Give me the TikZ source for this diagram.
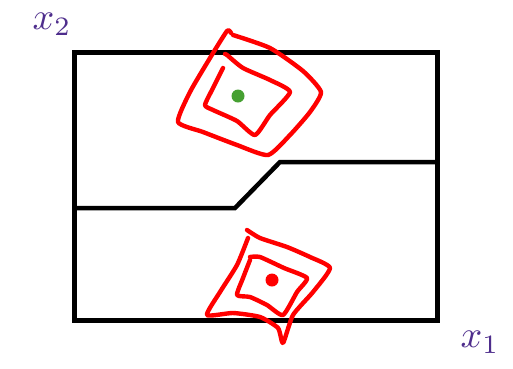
\documentclass[tikz,border=0pt]{standalone}
\usepackage{graphicx}
\begin{document}
\begin{tikzpicture}[x=1pt,y=-1pt,
  frame/.style={line width=5pt,black},
  scribble/.style={line width=4.4pt,red,line cap=round,line join=round},
  lbl/.style={text=axiscol,inner sep=0pt}]
\definecolor{axiscol}{RGB}{78,45,140}
\definecolor{dotgreen}{RGB}{70,160,50}
\useasboundingbox (0,0) rectangle (513,368);
% frame
\coordinate (tl) at (74.5,52.5);
\coordinate (tr) at (437,52.5);
\coordinate (br) at (437,320);
\coordinate (bl) at (74.5,320);
\draw[frame] (tl) -- (tr) -- (br) -- (bl) -- cycle;
% boundary
\coordinate (m1) at (74.5,208);
\coordinate (m2) at (235,208);
\coordinate (m3) at (280,162);
\coordinate (m4) at (437,162);
\draw[frame,line width=4.5pt] (m1) -- (m2) -- (m3) -- (m4);
% top scribbles
\draw[scribble] plot[smooth,tension=0.35] coordinates {(233,35) (270,48) (303,71) (321,92) (310,112) (290,135) (268,155) (237,145) (203,132) (178,122) (190,92) (210,58) (227,31) (231,33)};
\draw[scribble] plot[smooth,tension=0.35] coordinates {(223,68) (213,88) (205,105) (213,110) (237,121) (255,135) (270,115) (290,92) (270,80) (243,68) (227,55) (225,54)};
% bottom scribbles
\draw[scribble] plot[smooth,tension=0.35] coordinates {(247,230) (260,238) (287,247) (310,257) (330,268) (313,292) (293,315) (283,343) (278,328) (260,317) (233,313) (207,315) (220,292) (237,265) (248,238)};
\draw[scribble] plot[smooth,tension=0.35] coordinates {(250,257) (260,257) (284,268) (307,278) (297,292) (283,315) (267,305) (250,297) (237,295) (243,278) (250,260)};
% dots
\node[circle,fill=dotgreen,minimum size=13pt,inner sep=0pt] (g) at (238,96) {};
\node[circle,fill=red,minimum size=13pt,inner sep=0pt] (r) at (272,280) {};
% labels
\node[lbl] (x2) at (52,24) {\scalebox{3.8}{$x_2$}};
\node[lbl] (x1) at (480,342) {\scalebox{3.8}{$x_1$}};
\end{tikzpicture}
\end{document}
